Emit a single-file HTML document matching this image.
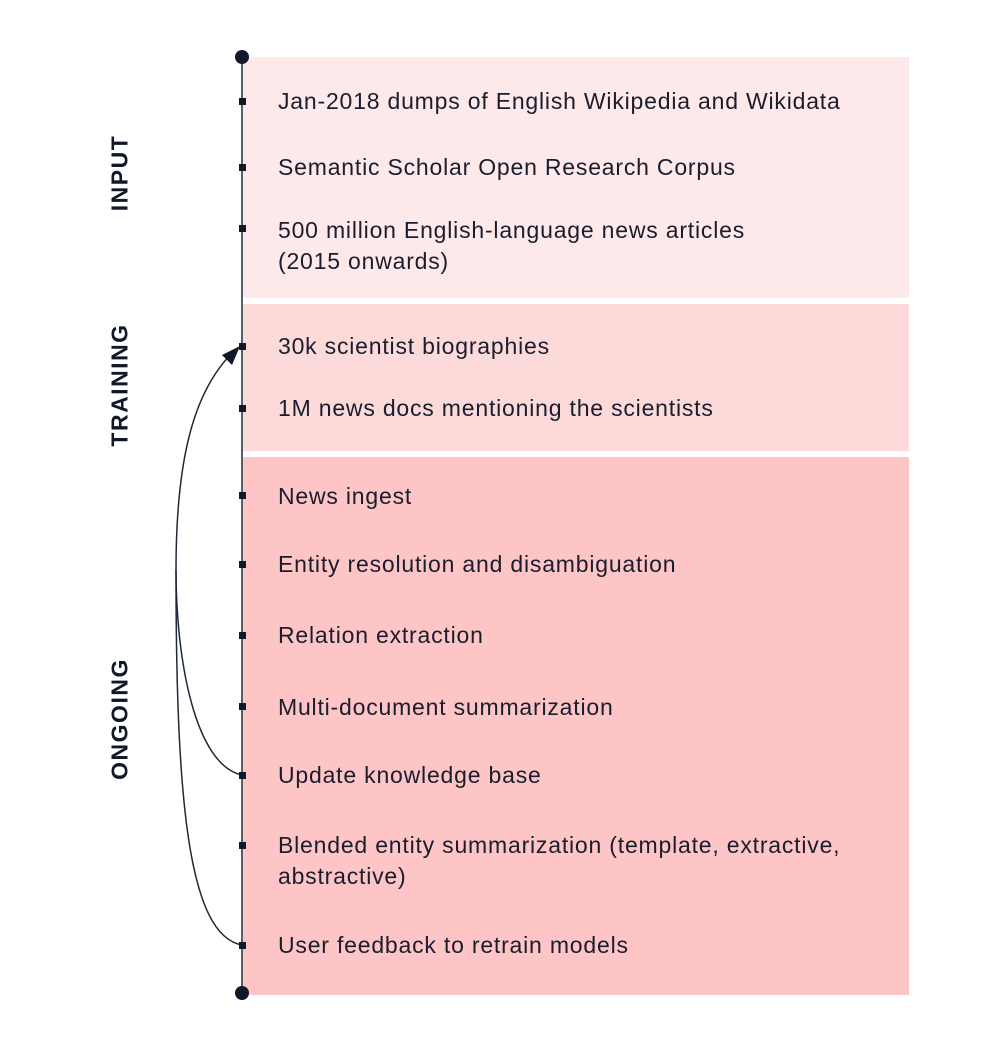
<!DOCTYPE html>
<html><head><style>
body{margin:0;background:#fff;width:1000px;height:1052px;position:relative;font-family:"Liberation Sans",sans-serif;overflow:hidden}
.b{position:absolute;left:243px;width:666px}
.t{position:absolute;left:278px;font-size:23px;letter-spacing:0.8px;color:#1a1d2e;line-height:31px;white-space:nowrap}
.d{position:absolute;left:239px;width:7px;height:7px;background:#111827}
.l{position:absolute;font-weight:bold;font-size:23px;color:#111827;letter-spacing:1.5px;transform:translate(-50%,-50%) rotate(-90deg);white-space:nowrap}
</style></head><body>
<div class="b" style="top:57px;height:241px;background:#fde9e9"></div>
<div class="b" style="top:304px;height:147px;background:#fcdada"></div>
<div class="b" style="top:457px;height:538px;background:#fdc5c5"></div>
<svg width="1000" height="1052" style="position:absolute;left:0;top:0">
<line x1="242" y1="57" x2="242" y2="993" stroke="#1f2937" stroke-width="1.5"/>
<circle cx="242" cy="57" r="7" fill="#111827"/>
<circle cx="242" cy="993" r="7" fill="#111827"/>
<path d="M242,775 C195,765 176,660 176,570 C176,455 195,390 233,352" fill="none" stroke="#1f2937" stroke-width="1.5"/>
<path d="M242,945 C188,935 176,800 176,570" fill="none" stroke="#1f2937" stroke-width="1.5"/>
<polygon points="240,346 222,355 232,365" fill="#111827"/>
</svg>
<div class="d" style="top:98px"></div><div class="d" style="top:164px"></div><div class="d" style="top:225px"></div>
<div class="d" style="top:343px"></div><div class="d" style="top:405px"></div>
<div class="d" style="top:492px"></div><div class="d" style="top:561px"></div><div class="d" style="top:632px"></div>
<div class="d" style="top:703px"></div><div class="d" style="top:772px"></div><div class="d" style="top:842px"></div><div class="d" style="top:942px"></div>
<div class="t" style="top:86px">Jan-2018 dumps of English Wikipedia and Wikidata</div>
<div class="t" style="top:152px">Semantic Scholar Open Research Corpus</div>
<div class="t" style="top:215px">500 million English-language news articles<br>(2015 onwards)</div>
<div class="t" style="top:331px">30k scientist biographies</div>
<div class="t" style="top:393px">1M news docs mentioning the scientists</div>
<div class="t" style="top:481px">News ingest</div>
<div class="t" style="top:549px">Entity resolution and disambiguation</div>
<div class="t" style="top:620px">Relation extraction</div>
<div class="t" style="top:692px">Multi-document summarization</div>
<div class="t" style="top:760px">Update knowledge base</div>
<div class="t" style="top:830px">Blended entity summarization (template, extractive,<br>abstractive)</div>
<div class="t" style="top:930px">User feedback to retrain models</div>
<div class="l" style="left:120px;top:173px">INPUT</div>
<div class="l" style="left:120px;top:385px">TRAINING</div>
<div class="l" style="left:120px;top:719px">ONGOING</div>
</body></html>
